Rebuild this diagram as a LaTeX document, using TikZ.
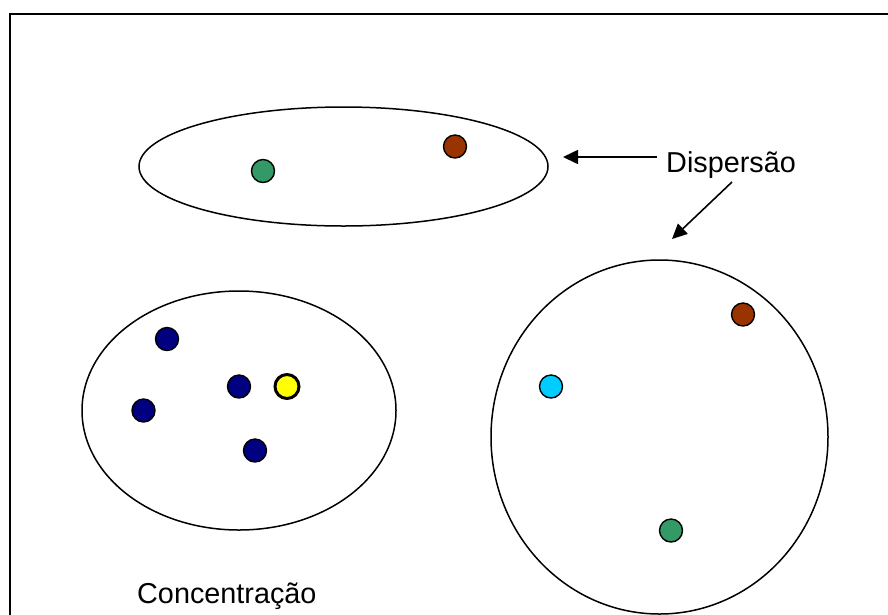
\documentclass[tikz,border=0pt]{standalone}
\usepackage{fontspec}
\setmainfont{Liberation Sans}
\usetikzlibrary{arrows.meta}
\definecolor{dotnavy}{HTML}{000080}
\definecolor{dotyellow}{HTML}{FFFF00}
\definecolor{dotcyan}{HTML}{00CCFF}
\definecolor{dotbrown}{HTML}{993300}
\definecolor{dotgreen}{HTML}{339966}
\tikzset{
  grp/.style={draw=black, line width=1.5pt},
  dot/.style={circle, draw=black, line width=1.4pt, minimum size=23pt, inner sep=0pt},
  label/.style={font=\fontsize{28.8}{33}\selectfont, inner sep=0pt, anchor=base west},
  pointer/.style={line width=1.6pt, -{Triangle[length=15pt,width=14pt]}}
}
\begin{document}
\begin{tikzpicture}[x=1pt,y=-1pt]
  \useasboundingbox (0,0) rectangle (888,614);
  % outer frame (runs off the right and bottom edges)
  \draw[line width=2.4pt] (10,630) -- (10,14) -- (900,14);

  % the three groups
  \draw[grp] (343.5,166.5) ellipse [x radius=204.5, y radius=59.5];
  \draw[grp] (239,410.5) ellipse [x radius=157, y radius=119.5];
  \draw[grp] (659.5,437) ellipse [x radius=168.5, y radius=177];

  % top group
  \node[dot, fill=dotgreen] (t1) at (263,171) {};
  \node[dot, fill=dotbrown] (t2) at (455,146.5) {};

  % left group
  \node[dot, fill=dotnavy] (l1) at (167,339) {};
  \node[dot, fill=dotnavy] (l2) at (239,386.5) {};
  \node[dot, fill=dotyellow, line width=3pt, minimum size=24pt] (l3) at (287,386.5) {};
  \node[dot, fill=dotnavy] (l4) at (143.5,410.5) {};
  \node[dot, fill=dotnavy] (l5) at (255,450.5) {};

  % right group
  \node[dot, fill=dotbrown] (r1) at (743,314.5) {};
  \node[dot, fill=dotcyan] (r2) at (551,386.5) {};
  \node[dot, fill=dotgreen] (r3) at (671,530.5) {};

  % labels
  \node[label] (disp) at (666,172) {Dispersão};
  \node[label] (conc) at (137,603) {Concentração};

  % pointers
  \coordinate (a1s) at (657,157);
  \coordinate (a1e) at (563,157);
  \coordinate (a2s) at (732,182);
  \coordinate (a2e) at (672,239);
  \draw[pointer] (a1s) -- (a1e);
  \draw[pointer] (a2s) -- (a2e);
\end{tikzpicture}
\end{document}
